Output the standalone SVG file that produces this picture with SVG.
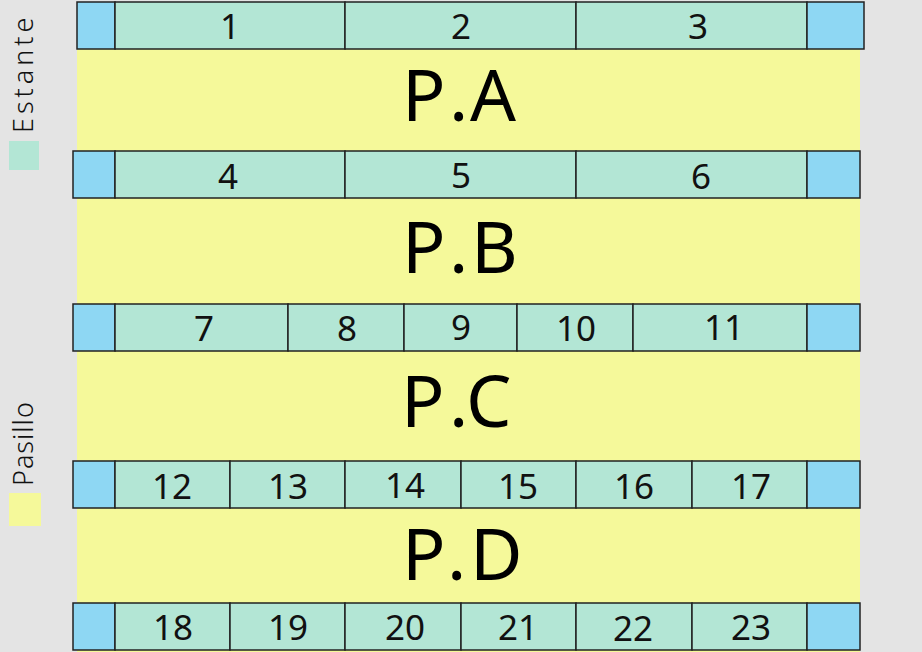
<svg xmlns="http://www.w3.org/2000/svg" width="922" height="652" viewBox="0 0 922 652">
<style>
.bg{fill:#e4e4e4}
.aisle{fill:#f5f99a}
.shelf{fill:#b3e6d5;stroke:#222;stroke-width:1.5}
.end{fill:#8ed7f3;stroke:#222;stroke-width:1.5}
.num{font-family:"Noto Sans","Liberation Sans",sans-serif;font-size:35px;fill:#111;text-anchor:middle}
.big{font-family:"Noto Sans","Liberation Sans",sans-serif;font-size:72px;fill:#000}
.leg{font-family:"Noto Sans","DejaVu Sans",sans-serif;font-size:27px;font-weight:300;fill:#111}
</style>
<rect class="bg" x="0" y="0" width="922" height="652"/>
<rect class="aisle" x="77" y="48" width="783" height="604"/>
<g id="legend">
<text class="leg" transform="translate(33,133) rotate(-90)" letter-spacing="4">Estante</text>
<rect x="9" y="141" width="30" height="29" fill="#b3e6d5"/>
<text class="leg" transform="translate(33,486) rotate(-90)" letter-spacing="1">Pasillo</text>
<rect x="9" y="493" width="32" height="33" fill="#f5f99a"/>
</g>
<g id="aisles">
<text class="big" x="402 449 470" y="121">P.A</text>
<text class="big" x="402 449 471" y="273">P.B</text>
<text class="big" x="401 449 466" y="427">P.C</text>
<text class="big" x="402 447 470" y="580">P.D</text>
</g>
<g id="row1">
<rect class="end" x="77" y="2" width="38" height="47"/>
<g id="s1"><rect class="shelf" x="115" y="2" width="230" height="47"/><text class="num" x="230" y="39">1</text></g>
<g id="s2"><rect class="shelf" x="345" y="2" width="231" height="47"/><text class="num" x="461" y="39">2</text></g>
<g id="s3"><rect class="shelf" x="576" y="2" width="231" height="47"/><text class="num" x="698" y="39">3</text></g>
<rect class="end" x="807" y="2" width="57" height="47"/>
</g>
<g id="row2">
<rect class="end" x="73" y="151" width="42" height="47"/>
<g id="s4"><rect class="shelf" x="115" y="151" width="230" height="47"/><text class="num" x="228" y="189">4</text></g>
<g id="s5"><rect class="shelf" x="345" y="151" width="231" height="47"/><text class="num" x="461" y="188">5</text></g>
<g id="s6"><rect class="shelf" x="576" y="151" width="231" height="47"/><text class="num" x="701" y="189">6</text></g>
<rect class="end" x="807" y="151" width="53" height="47"/>
</g>
<g id="row3">
<rect class="end" x="73" y="304" width="42" height="47"/>
<g id="s7"><rect class="shelf" x="115" y="304" width="173" height="47"/><text class="num" x="204" y="341">7</text></g>
<g id="s8"><rect class="shelf" x="288" y="304" width="116" height="47"/><text class="num" x="347" y="341">8</text></g>
<g id="s9"><rect class="shelf" x="404" y="304" width="113" height="47"/><text class="num" x="461" y="340">9</text></g>
<g id="s10"><rect class="shelf" x="517" y="304" width="116" height="47"/><text class="num" x="576" y="341">10</text></g>
<g id="s11"><rect class="shelf" x="633" y="304" width="174" height="47"/><text class="num" x="724" y="340">11</text></g>
<rect class="end" x="807" y="304" width="53" height="47"/>
</g>
<g id="row4">
<rect class="end" x="73" y="461" width="42" height="47"/>
<g id="s12"><rect class="shelf" x="115" y="461" width="115" height="47"/><text class="num" x="172" y="499">12</text></g>
<g id="s13"><rect class="shelf" x="230" y="461" width="115" height="47"/><text class="num" x="288" y="499">13</text></g>
<g id="s14"><rect class="shelf" x="345" y="461" width="116" height="47"/><text class="num" x="405" y="498">14</text></g>
<g id="s15"><rect class="shelf" x="461" y="461" width="115" height="47"/><text class="num" x="518" y="499">15</text></g>
<g id="s16"><rect class="shelf" x="576" y="461" width="116" height="47"/><text class="num" x="634" y="499">16</text></g>
<g id="s17"><rect class="shelf" x="692" y="461" width="115" height="47"/><text class="num" x="751" y="499">17</text></g>
<rect class="end" x="807" y="461" width="53" height="47"/>
</g>
<g id="row5">
<rect class="end" x="73" y="603" width="42" height="47"/>
<g id="s18"><rect class="shelf" x="115" y="603" width="115" height="47"/><text class="num" x="173" y="640">18</text></g>
<g id="s19"><rect class="shelf" x="230" y="603" width="115" height="47"/><text class="num" x="288" y="640">19</text></g>
<g id="s20"><rect class="shelf" x="345" y="603" width="116" height="47"/><text class="num" x="405" y="640">20</text></g>
<g id="s21"><rect class="shelf" x="461" y="603" width="115" height="47"/><text class="num" x="518" y="640">21</text></g>
<g id="s22"><rect class="shelf" x="576" y="603" width="116" height="47"/><text class="num" x="633" y="641">22</text></g>
<g id="s23"><rect class="shelf" x="692" y="603" width="115" height="47"/><text class="num" x="751" y="640">23</text></g>
<rect class="end" x="807" y="603" width="53" height="47"/>
</g>
</svg>
